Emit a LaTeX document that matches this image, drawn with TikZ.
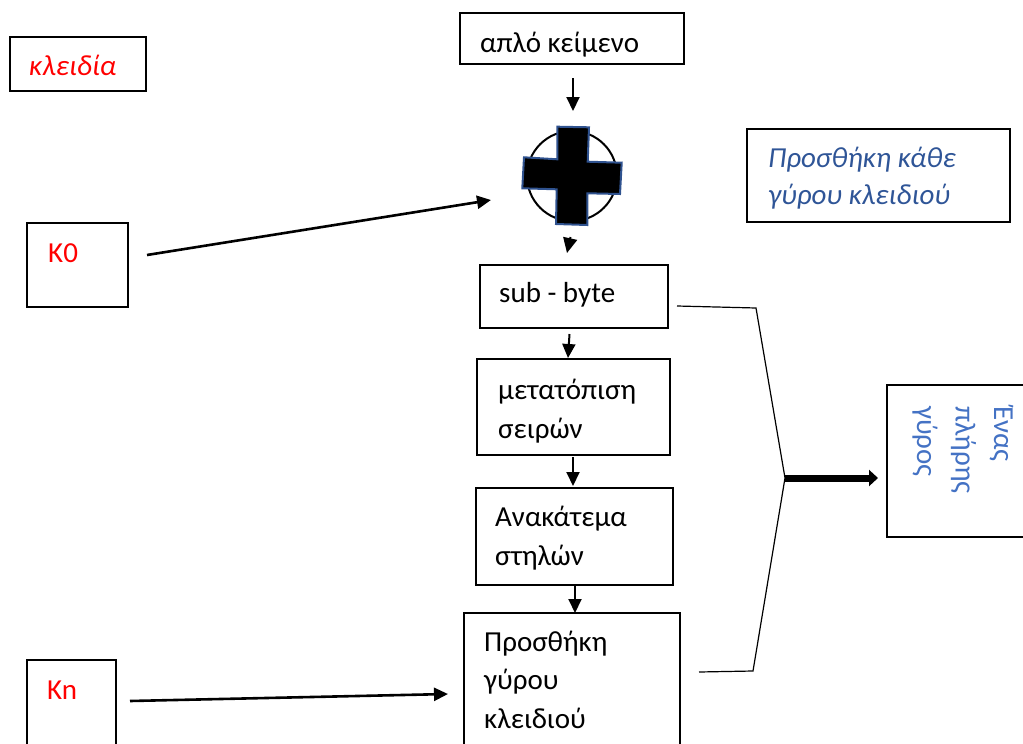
\documentclass[tikz,border=0pt]{standalone}
\usepackage{fontspec}
\setmainfont{Carlito}
\usetikzlibrary{arrows.meta}
\definecolor{notered}{HTML}{FF0000}
\definecolor{noteblue}{HTML}{2F5597}
\definecolor{roundblue}{HTML}{4472C4}
\definecolor{crossedge}{HTML}{2F528F}
\begin{document}
\begin{tikzpicture}[x=1pt,y=-1pt,
  box/.style={draw=black,line width=1.6pt,inner sep=0pt,outer sep=0pt,anchor=north west},
  txt/.style={inner sep=0pt,anchor=base west,align=left,font=\fontsize{29}{38.5}\selectfont},
  flow/.style={line width=2pt,-{Triangle[length=14pt,width=13pt]}},
  keyarrow/.style={line width=2.6pt,-{Triangle[length=14pt,width=13pt]}},
  thin/.style={line width=1.2pt,line join=miter}]
\useasboundingbox (0,0) rectangle (1023,744);

% boxes
\node[box,minimum width=136pt,minimum height=54pt] (keys) at (10,37) {};
\node[box,minimum width=224pt,minimum height=51pt] (plain) at (460,13) {};
\node[box,minimum width=101pt,minimum height=84pt] (k0) at (27,223) {};
\node[box,minimum width=89pt,minimum height=100pt] (kn) at (27,660) {};
\node[box,minimum width=188pt,minimum height=63pt] (sub) at (480,265) {};
\node[box,minimum width=193pt,minimum height=96pt] (shift) at (477,359) {};
\node[box,minimum width=197pt,minimum height=97pt] (mix) at (476,488) {};
\node[box,minimum width=216pt,minimum height=150pt] (addkey) at (464,613) {};
\node[box,minimum width=263pt,minimum height=93pt] (note) at (747,129) {};
\node[box,minimum width=150pt,minimum height=152pt] (round) at (887,385) {};

% texts (multi-line nodes are anchored at the baseline of their last line)
\node[txt,text=notered,font=\fontsize{29}{38}\selectfont\itshape] (tkeys) at (29,75) {κλειδία};
\node[txt] (tplain) at (480,52) {απλό κείμενο};
\node[txt,text=notered] (tk0) at (48,262) {K0};
\node[txt,text=notered] (tkn) at (47,699) {Kn};
\node[txt] (tsub) at (499,302) {sub - byte};
\node[txt] (tshift) at (498,438) {μετατόπιση\\σειρών};
\node[txt] (tmix) at (495,565) {Ανακάτεμα\\στηλών};
\node[txt] (tadd) at (484,728) {Προσθήκη\\γύρου\\κλειδιού};
\node[txt,text=noteblue,font=\fontsize{29}{37}\selectfont\itshape] (tnote) at (768,204) {Προσθήκη κάθε\\γύρου κλειδιού};
\node[txt,text=roundblue,rotate=-90] (tround) at (917,406) {Ένας\\πλήρης\\γύρος};

% xor symbol: circle with a filled cross
\node[circle,draw=black,line width=2pt,minimum size=90pt,inner sep=0pt] (xor) at (572,176) {};
\draw[fill=black,draw=crossedge,line width=2pt,line join=miter]
  (557.3,126.7) -- (589,127.3) -- (587.7,161.7) -- (621.7,162.7) -- (620,194)
  -- (587.3,193.3) -- (587.3,225) -- (556,224) -- (556.7,189.3) -- (522.3,188.3)
  -- (524,157.3) -- (557.3,159.3) -- cycle;

% flow arrows
\coordinate (p1) at (573,78);   \coordinate (p2) at (573,111);
\draw[flow] (p1) -- (p2);
\coordinate (c1) at (570.5,237); \coordinate (c2) at (567,253);
\draw[flow,-{Triangle[length=15pt,width=14pt]}] (c1) -- (c2);
\draw[flow] (569.5,334) -- (568,358);
\draw[flow] (573,457) -- (573,486);
\draw[flow] (575,586) -- (575,613);

% key inputs
\coordinate (k0s) at (147,255); \coordinate (k0e) at (491,200);
\draw[keyarrow] (k0s) -- (k0e);
\coordinate (kns) at (130,701); \coordinate (kne) at (448,694);
\draw[keyarrow] (kns) -- (kne);

% bracket grouping one full round
\coordinate (b1) at (677,306);
\coordinate (b2) at (756,308);
\coordinate (apex) at (785,478);
\coordinate (b4) at (753,671);
\coordinate (b5) at (699,672);
\draw[thin] (b1) -- (b2) -- (apex) -- (b4) -- (b5);
\draw[line width=7pt,-{Triangle[length=9pt,width=16pt]}] (apex) -- (878,478);
\end{tikzpicture}
\end{document}
